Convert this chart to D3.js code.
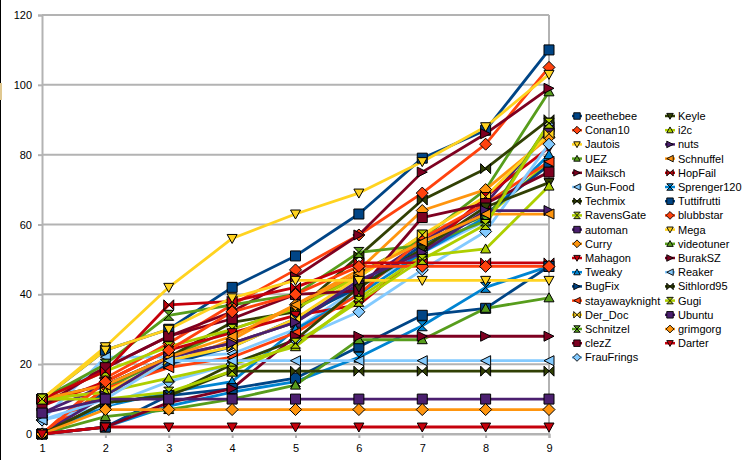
<!DOCTYPE html>
<html><head><meta charset="utf-8">
<script src="https://cdn.jsdelivr.net/npm/d3@7"></script>
<style>body{margin:0;background:#fff}svg{display:block}</style>
</head><body>
<svg id="c" width="750" height="471"></svg>
<script>
const categories = [1,2,3,4,5,6,7,8,9];
const yTicks = [0,20,40,60,80,100,120];
const seriesNames = ["peethebee","Conan10","Jautois","UEZ","Maiksch","Gun-Food","Techmix","RavensGate","automan","Curry","Mahagon","Tweaky","BugFix","stayawayknight","Der_Doc","Schnitzel","clezZ","FrauFrings","Keyle","i2c","nuts","Schnuffel","HopFail","Sprenger120","Tuttifrutti","blubbstar","Mega","videotuner","BurakSZ","Reaker","Sithlord95","Gugi","Ubuntu","grimgorg","Darter"];
const peethebee = [10,24,30,42,51,63,79,87,110];
const Conan10 = [0,16,26,37,47,57,69,83,105];
const Jautois = [10,25,42,56,63,69,78,88,103];
const UEZ = [0,13,22,30,36,46,56,70,98];
const Maiksch = [10,19,28,35,45,57,75,86,99];
const GunFood = [4,22,22,23,30,42,52,61,88];
const Techmix = [10,14,22,32,35,51,67,76,90];
const RavensGate = [10,18,25,30,36,45,57,62,78];
const automan = [6,14,22,26,32,43,55,66,87];
const Curry = [0,12,20,27,37,47,64,70,85];
const Mahagon = [8,15,24,29,34,37,52,68,82];
const Tweaky = [0,8,12,15,30,40,52,62,80];
const BugFix = [0,12,20,25,33,42,54,63,77];
const stayawayknight = [0,13,19,22,29,40,56,66,78];
const Der_Doc = [10,12,21,25,33,45,57,68,86];
const Schnitzel = [10,20,34,37,40,52,54,61,89];
const clezZ = [8,19,28,33,40,41,62,66,75];
const FrauFrings = [4,8,15,20,27,35,47,58,83];
const Keyle = [0,9,11,20,27,42,53,65,72];
const i2c = [10,12,16,20,25,39,51,53,71];
const nuts = [0,11,22,26,32,44,52,64,64];
const Schnuffel = [10,14,22,28,37,46,55,63,63];
const HopFail = [10,18,37,38,42,49,49,49,49];
const Sprenger120 = [0,2,8,12,15,22,31,42,48];
const Tuttifrutti = [0,2,11,13,16,25,34,36,48];
const blubbstar = [0,15,24,35,40,48,48,48,48];
const Mega = [10,24,30,39,44,44,44,44,44];
const videotuner = [0,5,7,10,14,27,27,36,39];
const BurakSZ = [0,2,9,13,28,28,28,28,28];
const Reaker = [4,10,21,21,21,21,21,21,21];
const Sithlord95 = [0,9,11,18,18,18,18,18,18];
const Gugi = [10,10,12,18,26,38,50,60,89];
const Ubuntu = [6,10,10,10,10,10,10,10,10];
const grimgorg = [0,7,7,7,7,7,7,7,7];
const Darter = [0,2,2,2,2,2,2,2,2];
const seriesValues = [peethebee,Conan10,Jautois,UEZ,Maiksch,GunFood,Techmix,RavensGate,automan,Curry,Mahagon,Tweaky,BugFix,stayawayknight,Der_Doc,Schnitzel,clezZ,FrauFrings,Keyle,i2c,nuts,Schnuffel,HopFail,Sprenger120,Tuttifrutti,blubbstar,Mega,videotuner,BurakSZ,Reaker,Sithlord95,Gugi,Ubuntu,grimgorg,Darter];

const palette = ["#004586","#ff420e","#ffd320","#579d1c","#7e0021","#83caff","#314004","#aecf00","#4b1f6f","#ff950e","#c5000b","#0084d1"];
const shapes = [
  "M-5,-5H5V5H-5Z",
  "M0,-6L6,0L0,6L-6,0Z",
  "M-5,-4H5L0,5Z",
  "M0,-5L5,4H-5Z",
  "M-5,-5L5,0L-5,5Z",
  "M5,-5L-5,0L5,5Z",
  "M-5,-5L0,0L-5,5ZM5,-5L0,0L5,5Z",
  "M-5,-5H5L0,0ZM-5,5H5L0,0Z"
];

const svg = d3.select("#c");
// left edge artifact
svg.append("rect").attr("x",0).attr("y",0).attr("width",1).attr("height",460).attr("fill","#000");
svg.append("rect").attr("x",0).attr("y",83).attr("width",2).attr("height",17).attr("fill","#e0c890");

const x = d3.scaleLinear().domain([1,9]).range([42,549]);
const y = d3.scaleLinear().domain([0,120]).range([434,15]);
const font = "'Liberation Sans', Arial, sans-serif";

const g = svg.append("g");
g.selectAll("line.grid").data(yTicks).join("line")
  .attr("x1",42).attr("x2",549).attr("y1",d=>y(d)).attr("y2",d=>y(d))
  .attr("stroke","#b3b3b3").attr("stroke-width",2);
g.append("line").attr("x1",549).attr("x2",549).attr("y1",y(120)).attr("y2",y(0)).attr("stroke","#b3b3b3").attr("stroke-width",2);

const yAxis = d3.axisLeft(y).tickValues(yTicks).tickSize(4).tickPadding(6);
const ya = svg.append("g").attr("transform","translate(42,0)").call(yAxis);
const xAxis = d3.axisBottom(x).tickValues(categories).tickSize(4).tickPadding(6).tickFormat(d3.format("d"));
const xa = svg.append("g").attr("transform","translate(0,434)").call(xAxis);
[ya,xa].forEach(a=>{
  a.select(".domain").attr("stroke","#b3b3b3").attr("stroke-width",2);
  a.selectAll(".tick line").attr("stroke","#b3b3b3").attr("stroke-width",2);
  a.selectAll(".tick text").attr("fill","#000").style("font-family",font).style("font-size","11px");
});

const line = d3.line().x((d,i)=>x(categories[i])).y(d=>y(d));
const plot = svg.append("g");
seriesValues.forEach((vals,si)=>{
  const col = palette[si%12];
  plot.append("path").attr("d",line(vals)).attr("fill","none").attr("stroke",col).attr("stroke-width",2.8).attr("stroke-linejoin","round");
});
seriesValues.forEach((vals,si)=>{
  const col = palette[si%12];
  plot.selectAll(null).data(vals).join("path")
    .attr("d",shapes[si%8])
    .attr("transform",(d,i)=>`translate(${x(categories[i])},${y(d)})`)
    .attr("fill",col).attr("stroke","#000").attr("stroke-width",1);
});

const leg = svg.append("g");
seriesNames.forEach((name,si)=>{
  const col = palette[si%12];
  const c = si<18 ? 0 : 1;
  const r = si<18 ? si : si-18;
  const sx = c===0 ? 577 : 670;
  const sy = 116 + r*14.2;
  leg.append("line").attr("x1",sx-5).attr("x2",sx+5).attr("y1",sy).attr("y2",sy).attr("stroke",col).attr("stroke-width",2.5);
  leg.append("path").attr("d",shapes[si%8]).attr("transform",`translate(${sx},${sy}) scale(0.65)`).attr("fill",col).attr("stroke","#000").attr("stroke-width",1.4);
  leg.append("text").attr("x",sx+8).attr("y",sy+4).text(name).style("font-family",font).style("font-size","11px").attr("fill","#000");
});
</script>
</body></html>
